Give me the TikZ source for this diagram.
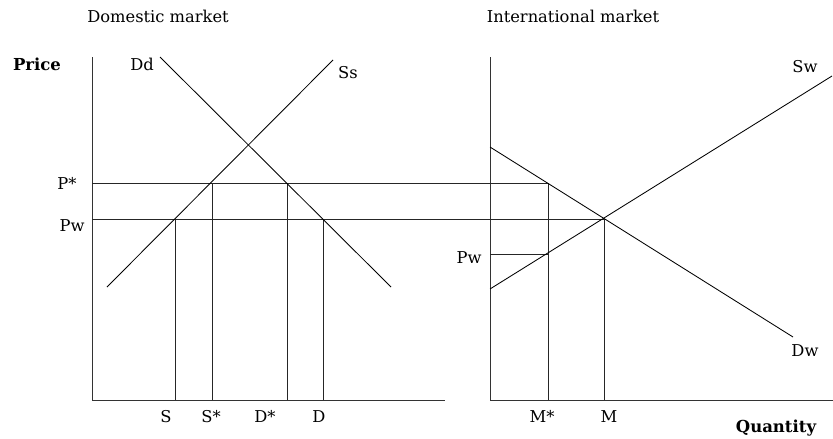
\documentclass[tikz,border=0pt]{standalone}
\usepackage{fontspec}
\setmainfont{DejaVu Serif}
\begin{document}
\begin{tikzpicture}[x=1pt,y=-1pt,
  lbl/.style={font=\fontsize{16.3}{19}\selectfont, inner sep=0pt, anchor=base},
  blbl/.style={lbl, font=\fontsize{16.5}{19}\selectfont\bfseries},
  axis/.style={draw=black!80, line width=0.9pt},
  curve/.style={draw=black, line width=0.85pt},
  guide/.style={draw=black!85, line width=0.85pt}]
\useasboundingbox (0,0) rectangle (833,439);
% key points
\coordinate (LT) at (92,57);  \coordinate (LO) at (92,400);  \coordinate (LE) at (445,400);
\coordinate (RT) at (490,57); \coordinate (RO) at (490,400); \coordinate (RE) at (833,400);
\coordinate (Dd1) at (160,57); \coordinate (Dd2) at (391,287);
\coordinate (Ss1) at (107,287); \coordinate (Ss2) at (333,60);
\coordinate (Dw1) at (490,147); \coordinate (Dw2) at (793,337);
\coordinate (Sw1) at (490,289); \coordinate (Sw2) at (832,76);
\coordinate (PsA) at (92,183); \coordinate (PsB) at (548,183);
\coordinate (PwA) at (92,219); \coordinate (PwB) at (604,219);
\coordinate (pwA) at (490,254); \coordinate (pwB) at (548,254);
\coordinate (S1) at (175,219); \coordinate (S0) at (175,400);
\coordinate (Ss*1) at (212,183); \coordinate (Ss*0) at (212,400);
\coordinate (Ds1) at (287,183); \coordinate (Ds0) at (287,400);
\coordinate (D1) at (323,219); \coordinate (D0) at (323,400);
\coordinate (Ms1) at (548,183); \coordinate (Ms0) at (548,400);
\coordinate (M1) at (604,219); \coordinate (M0) at (604,400);
% axes
\draw[axis] (LT) -- (LO) -- (LE);
\draw[axis] (RT) -- (RO) -- (RE);
% price lines
\draw[guide] (PsA) -- (PsB);
\draw[guide] (PwA) -- (PwB);
\draw[guide] (pwA) -- (pwB);
% quantity lines
\draw[guide] (S1) -- (S0);
\draw[guide] (Ss*1) -- (Ss*0);
\draw[guide] (Ds1) -- (Ds0);
\draw[guide] (D1) -- (D0);
\draw[guide] (Ms1) -- (Ms0);
\draw[guide] (M1) -- (M0);
% curves
\draw[curve] (Dd1) -- (Dd2);
\draw[curve] (Ss1) -- (Ss2);
\draw[curve] (Dw1) -- (Dw2);
\draw[curve] (Sw1) -- (Sw2);
% labels
\node[lbl] (tdom) at (158,23) {Domestic market};
\node[lbl] (tint) at (573,23) {International market};
\node[blbl] (tprice) at (37,70) {Price};
\node[lbl] (tdd) at (142,70) {Dd};
\node[lbl] (tss) at (348,78) {Ss};
\node[lbl] (tsw) at (805,72) {Sw};
\node[lbl] (tdw) at (805,356) {Dw};
\node[lbl] (tps) at (67,189) {P*};
\node[lbl] (tpw) at (72,231) {Pw};
\node[lbl] (tpw2) at (469,263) {Pw};
\node[lbl] (ts) at (166,422) {S};
\node[lbl] (tss2) at (211,422) {S*};
\node[lbl] (tds) at (265,422) {D*};
\node[lbl] (td) at (319,422) {D};
\node[lbl] (tms) at (542,422) {M*};
\node[lbl] (tm) at (609,422) {M};
\node[blbl] (tq) at (776,432) {Quantity};
\end{tikzpicture}
\end{document}
